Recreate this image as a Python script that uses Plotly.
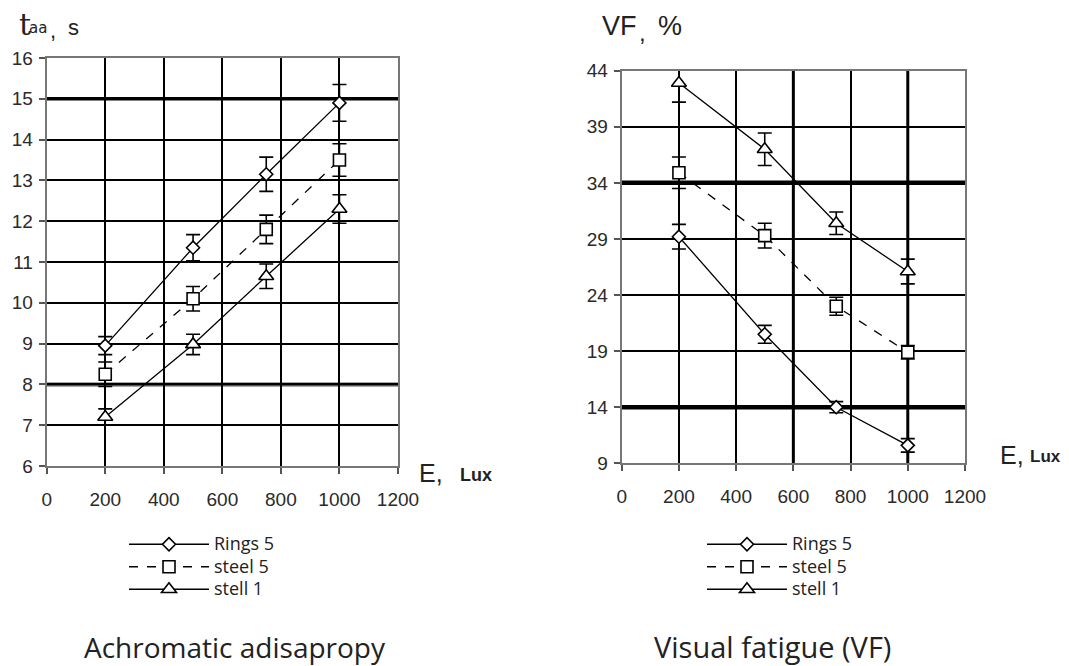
import plotly.graph_objects as go

# ---------------- data ----------------
lux = [200, 500, 750, 1000]
series_names = ["Rings 5", "steel 5", "stell 1"]

# Achromatic adisapropy, t_aa (s)
taa_rings5 = [8.95, 11.35, 13.15, 14.9]
taa_rings5_err = [0.22, 0.32, 0.42, 0.45]
taa_steel5 = [8.25, 10.1, 11.8, 13.5]
taa_steel5_err = [0.3, 0.3, 0.35, 0.4]
taa_stell1 = [7.2, 8.98, 10.65, 12.3]
taa_stell1_err = [0.2, 0.25, 0.3, 0.35]

# Visual fatigue VF (%)
vf_rings5 = [29.2, 20.5, 14.0, 10.6]
vf_rings5_err = [1.1, 0.8, 0.5, 0.6]
vf_steel5 = [34.9, 29.3, 23.0, 18.9]
vf_steel5_err = [1.4, 1.1, 0.8, 0.6]
vf_stell1 = [42.9, 37.0, 30.4, 26.1]
vf_stell1_err = [1.7, 1.45, 1.0, 1.1]

x_ticks = [0, 200, 400, 600, 800, 1000, 1200]
taa_ticks = [6, 7, 8, 9, 10, 11, 12, 13, 14, 15, 16]
vf_ticks = [9, 14, 19, 24, 29, 34, 39, 44]

# page body has an 8px margin: size the figure to fit the window
OFF = 8
W, H = 1069 - OFF, 666 - OFF

markers = [
    dict(symbol="diamond", size=10),
    dict(symbol="square", size=12),
    dict(symbol="triangle-up", size=13),
]
dashes = ["solid", "dash", "solid"]

fig = go.Figure()

def add_series(xs, ys, errs, name, idx, xa, ya, legend):
    fig.add_trace(go.Scatter(
        x=xs, y=ys, name="<span style='font-size:18px'>%s</span>" % name,
        mode="lines+markers",
        xaxis=xa, yaxis=ya, legend=legend,
        line=dict(color="black", width=1.3, dash=dashes[idx]),
        marker=dict(symbol=markers[idx]["symbol"], size=markers[idx]["size"],
                    color="white", line=dict(color="black", width=1.6)),
        error_y=dict(type="data", array=errs, visible=True, color="black",
                     thickness=1.6, width=7),
    ))

left = [(taa_rings5, taa_rings5_err), (taa_steel5, taa_steel5_err), (taa_stell1, taa_stell1_err)]
right = [(vf_rings5, vf_rings5_err), (vf_steel5, vf_steel5_err), (vf_stell1, vf_stell1_err)]
for i, (ys, es) in enumerate(left):
    add_series(lux, ys, es, series_names[i], i, "x", "y", "legend")
for i, (ys, es) in enumerate(right):
    add_series(lux, ys, es, series_names[i], i, "x2", "y2", "legend2")

tickfont = dict(family="Liberation Sans, Arial", size=19, color="#2a2a2a")

def px_x(p):
    return (p - OFF) / W

def px_y(p):
    return 1 - (p - OFF) / H

axis_common = dict(
    showgrid=True, gridcolor="black", gridwidth=2,
    showline=True, linecolor="#777", linewidth=2, mirror=True,
    ticks="outside", ticklen=6, tickcolor="#555", tickwidth=1.5,
    tickfont=tickfont, zeroline=False, fixedrange=True,
)

fig.update_layout(
    width=W, height=H, margin=dict(l=0, r=0, t=0, b=0, autoexpand=False),
    paper_bgcolor="white", plot_bgcolor="white",
    showlegend=True,
    xaxis=dict(domain=[px_x(46.7), px_x(398)], range=[0, 1200], tickvals=x_ticks,
               anchor="y", ticklabelstandoff=9, **axis_common),
    yaxis=dict(domain=[px_y(466), px_y(58)], range=[6, 16], tickvals=taa_ticks,
               anchor="x", ticklabelstandoff=2, **axis_common),
    xaxis2=dict(domain=[px_x(621.7), px_x(965)], range=[0, 1200], tickvals=x_ticks,
                anchor="y2", ticklabelstandoff=9, **axis_common),
    yaxis2=dict(domain=[px_y(463.3), px_y(70.7)], range=[9, 44], tickvals=vf_ticks,
                anchor="x2", ticklabelstandoff=2, **axis_common),
    legend=dict(x=px_x(124), y=px_y(528), xanchor="left", yanchor="top",
                font=dict(family="Open Sans", size=15, color="#222"),
                itemwidth=80, tracegroupgap=0, bgcolor="rgba(0,0,0,0)"),
    legend2=dict(x=px_x(702), y=px_y(528), xanchor="left", yanchor="top",
                 font=dict(family="Open Sans", size=15, color="#222"),
                 itemwidth=80, tracegroupgap=0, bgcolor="rgba(0,0,0,0)"),
)

# emphasised grid lines (as in the original drawing)
def hline(yv, xref, yref, color, width):
    fig.add_shape(type="line", xref=xref + " domain", yref=yref, x0=0, x1=1, y0=yv, y1=yv,
                  line=dict(color=color, width=width), layer="below")

def vline(xv, xref, yref, color, width):
    fig.add_shape(type="line", xref=xref, yref=yref + " domain", x0=xv, x1=xv, y0=0, y1=1,
                  line=dict(color=color, width=width), layer="below")

hline(15, "x", "y", "black", 3.5)
hline(8, "x", "y", "#555", 4)
hline(34, "x2", "y2", "black", 4.5)
hline(14, "x2", "y2", "black", 4.5)
vline(600, "x2", "y2", "black", 3)
vline(1000, "x2", "y2", "black", 3)

dark = "#222"
annots = [
    dict(x=px_x(17), y=px_y(24), text="t", xanchor="left",
         font=dict(family="DejaVu Serif", size=30, color=dark)),
    dict(x=px_x(27), y=px_y(28), text="aa", xanchor="left",
         font=dict(family="DejaVu Sans", size=15, color=dark)),
    dict(x=px_x(48), y=px_y(30), text=",", xanchor="left",
         font=dict(family="Liberation Sans", size=22, color=dark)),
    dict(x=px_x(66), y=px_y(27), text="s", xanchor="left",
         font=dict(family="Liberation Sans", size=22, color=dark)),
    dict(x=px_x(600), y=px_y(26), text="VF", xanchor="left",
         font=dict(family="Liberation Sans", size=27, color=dark)),
    dict(x=px_x(637), y=px_y(32), text=",", xanchor="left",
         font=dict(family="Liberation Sans", size=24, color=dark)),
    dict(x=px_x(656), y=px_y(26), text="%", xanchor="left",
         font=dict(family="Liberation Sans", size=27, color=dark)),
    dict(x=px_x(417), y=px_y(473), text="E,", xanchor="left",
         font=dict(family="Liberation Sans", size=25, color=dark)),
    dict(x=px_x(458), y=px_y(475), text="<b>Lux</b>", xanchor="left",
         font=dict(family="Liberation Sans", size=18, color=dark)),
    dict(x=px_x(998), y=px_y(455), text="E,", xanchor="left",
         font=dict(family="Liberation Sans", size=25, color=dark)),
    dict(x=px_x(1028), y=px_y(456), text="<b>Lux</b>", xanchor="left",
         font=dict(family="Liberation Sans", size=17, color=dark)),
    dict(x=px_x(235), y=px_y(647), text="Achromatic adisapropy", xanchor="center",
         font=dict(family="Open Sans", size=28, color=dark)),
    dict(x=px_x(772), y=px_y(646), text="Visual fatigue (VF)", xanchor="center",
         font=dict(family="Open Sans", size=29, color=dark)),
]
for a in annots:
    fig.add_annotation(xref="paper", yref="paper", showarrow=False, yanchor="middle", **a)

fig.write_html("out.html")
